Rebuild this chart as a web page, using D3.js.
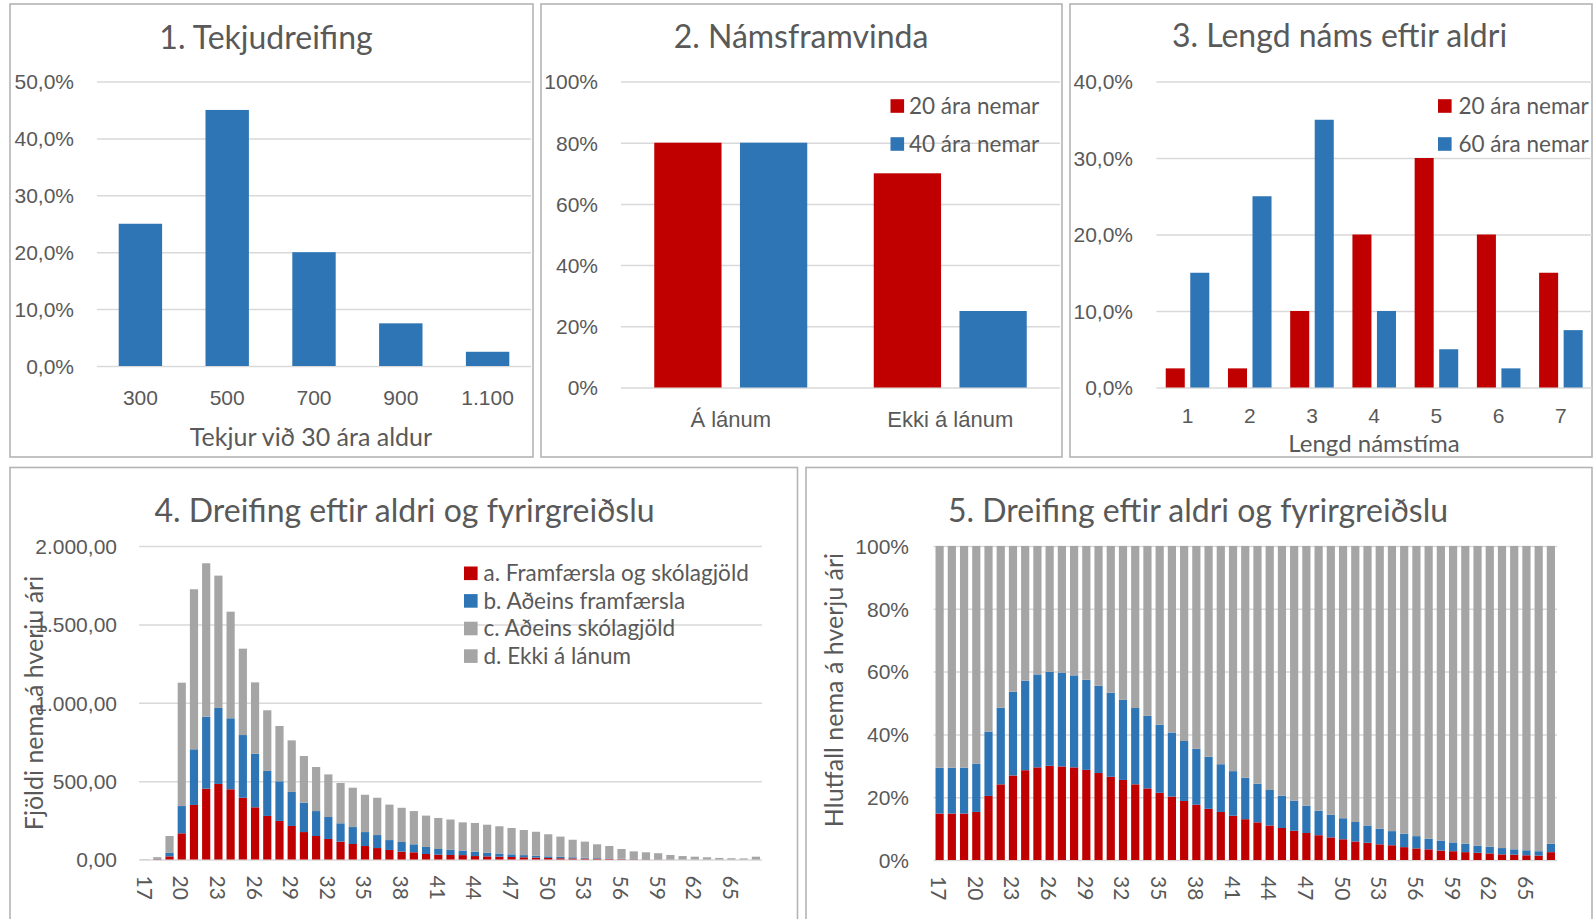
<!DOCTYPE html>
<html><head><meta charset="utf-8">
<script src="https://cdn.jsdelivr.net/npm/d3@7"></script>
<style>
body{margin:0;background:#fff;}
svg{display:block;font-family:Lato,'Open Sans',sans-serif;}
</style></head><body>
<svg id="c" width="1594" height="919"></svg>
<script>
// ---------- DATA ----------
// Chart 1
const incomeCats = [300, 500, 700, 900, 1100];
const incomeShare = [0.25, 0.45, 0.20, 0.075, 0.025];
const y1Ticks = [0, 0.1, 0.2, 0.3, 0.4, 0.5];
// Chart 2
const progressCats = ["Á lánum", "Ekki á lánum"];
const progressSeries = ["20 ára nemar", "40 ára nemar"];
const progress20 = [0.80, 0.70];
const progress40 = [0.80, 0.25];
const y2Ticks = [0, 0.2, 0.4, 0.6, 0.8, 1.0];
// Chart 3
const lengthCats = [1, 2, 3, 4, 5, 6, 7];
const lengthSeries = ["20 ára nemar", "60 ára nemar"];
const length20 = [0.025, 0.025, 0.10, 0.20, 0.30, 0.20, 0.15];
const length60 = [0.15, 0.25, 0.35, 0.10, 0.05, 0.025, 0.075];
const y3Ticks = [0, 0.1, 0.2, 0.3, 0.4];
// Charts 4 & 5
const ages = [17,18,19,20,21,22,23,24,25,26,27,28,29,30,31,32,33,34,35,36,37,38,39,40,41,42,43,44,45,46,47,48,49,50,51,52,53,54,55,56,57,58,59,60,61,62,63,64,65,66,67];
const ageTicks = [17,20,23,26,29,32,35,38,41,44,47,50,53,56,59,62,65];
const groupNames = ["a. Framfærsla og skólagjöld", "b. Aðeins framfærsla", "c. Aðeins skólagjöld", "d. Ekki á lánum"];
const countA = [0.2,2,20,167,348,452,482,448,394,333,278,246,214,175,150,131,114,99,86,73,61,50,46,35,31,29,28,22,20,18,16,14,12,10,8,7,6,5,4,2.5,1.8,1.4,1.1,0.7,0.5,0.4,0.3,0.2,0.1,0.1,0.45];
const countB = [0.2,2,22,174,355,459,485,453,400,342,287,253,217,187,159,140,117,108,89,83,63,62,51,45,36,34,29,28,23,20,17,14,12,10,9,7,5,4,3,2.6,1.7,1.5,1.1,0.8,0.5,0.4,0.2,0.2,0.1,0.1,0.5];
const countC = [0,0,0,0,0,0,0,0,0,0,0,0,0,0,0,0,0,0,0,0,0,0,0,0,0,0,0,0,0,0,0,0,0,0,0,0,0,0,0,0,0,0,0,0,0,0,0,0,0,0,0];
const countD = [0.9,11,108,787,1021,979,844,680,551,455,387,353,329,298,281,272,257,251,238,238,226,218,212,200,198,192,180,183,179,174,168,160,153,141,129,112,103,88,79,62,48.5,43,37.8,27.5,21,17.2,13.5,9.6,7.8,6.8,17];
const y4Ticks = [0, 500, 1000, 1500, 2000];
const shareA = [14.8,14.8,14.8,15.3,20.4,24.1,26.9,28.6,29.5,30.0,29.8,29.5,28.7,27.7,26.5,25.5,24.1,22.8,21.4,20.2,18.8,17.6,16.3,15.3,14.1,13.0,12.0,11.0,10.2,9.3,8.6,7.9,7.2,6.6,5.9,5.5,5.0,4.7,4.1,3.7,3.4,3.0,2.8,2.5,2.3,2.1,1.8,1.7,1.5,1.4,2.5];
const shareB = [14.6,14.6,14.6,15.4,20.5,24.4,26.7,28.5,29.6,29.9,29.9,29.3,28.7,27.8,26.8,25.5,24.3,23.1,21.7,20.4,19.1,17.8,16.6,15.2,14.2,13.2,12.3,11.3,10.3,9.6,8.7,7.8,7.2,6.7,6.2,5.5,5.0,4.5,4.3,3.9,3.4,3.2,2.8,2.7,2.3,2.1,2.0,1.7,1.6,1.4,2.7];
const shareC = [0,0,0,0,0,0,0,0,0,0,0,0,0,0,0,0,0,0,0,0,0,0,0,0,0,0,0,0,0,0,0,0,0,0,0,0,0,0,0,0,0,0,0,0,0,0,0,0,0,0,0];
const shareD = [70.6,70.6,70.6,69.3,59.1,51.5,46.4,42.9,40.9,40.1,40.3,41.2,42.6,44.5,46.7,49.0,51.6,54.1,56.9,59.4,62.1,64.6,67.1,69.5,71.7,73.8,75.7,77.7,79.5,81.1,82.7,84.3,85.6,86.7,87.9,89.0,90.0,90.8,91.6,92.4,93.2,93.8,94.4,94.8,95.4,95.8,96.2,96.6,96.9,97.2,94.8];
const y5Ticks = [0, 20, 40, 60, 80, 100];

// ---------- STYLE ----------
const RED = "#C00000", BLUE = "#2E75B6", GRAY = "#A5A5A5", TXT = "#595959", GRID = "#D9D9D9", BORDER = "#B4B4B4";
const TICK_FS = 21, CAT_FS = 22, LEG_FS = 22.5, AXT_FS = 25, TITLE_FS = 32;
const isl = d3.formatLocale({decimal: ",", thousands: ".", grouping: [3], currency: ["", " kr."]});
const svg = d3.select("#c");

function panel(x, y, w, h) {
  svg.append("rect").attr("x", x).attr("y", y).attr("width", w).attr("height", h)
    .attr("fill", "#fff").attr("stroke", BORDER).attr("stroke-width", 1.6);
}
function title(txt, cx, by) {
  svg.append("text").attr("x", cx).attr("y", by).attr("text-anchor", "middle")
    .attr("font-size", TITLE_FS).attr("fill", TXT).text(txt);
}
function yAxis(scale, ticks, fmt, labelRight, x0, x1) {
  const grid = svg.append("g").attr("transform", `translate(${x0},0)`)
    .call(d3.axisLeft(scale).tickValues(ticks).tickSize(-(x1 - x0)).tickFormat(""));
  grid.select(".domain").remove();
  grid.selectAll("line").attr("stroke", GRID).attr("stroke-width", 1.5);
  const lab = svg.append("g").attr("transform", `translate(${labelRight},0)`)
    .call(d3.axisLeft(scale).tickValues(ticks).tickSize(0).tickPadding(0).tickFormat(fmt));
  lab.select(".domain").remove();
  lab.selectAll("text").attr("font-size", TICK_FS).attr("fill", TXT).attr("font-family", null).attr("dy", "0.35em");
}
function xAxis(scale, baseY, pad, fmt, fs) {
  const g = svg.append("g").attr("transform", `translate(0,${baseY})`)
    .call(d3.axisBottom(scale).tickSize(0).tickPadding(pad).tickFormat(fmt));
  g.select(".domain").remove();
  g.selectAll("text").attr("font-size", fs).attr("fill", TXT).attr("font-family", null);
}
function legend(items, x, yStart, step, textX) {
  items.forEach((it, i) => {
    const cy = yStart + i * step;
    svg.append("rect").attr("x", x).attr("y", cy - 6.8).attr("width", 13.6).attr("height", 13.6).attr("fill", it.color);
    svg.append("text").attr("x", textX).attr("y", cy).attr("dy", "0.35em").attr("font-size", LEG_FS)
      .attr("fill", TXT).text(it.name);
  });
}
function axisTitle(txt, x, y, fs) {
  svg.append("text").attr("x", x).attr("y", y).attr("text-anchor", "middle")
    .attr("font-size", fs).attr("fill", TXT).text(txt);
}

// ---------- CHART 1 ----------
panel(10, 4, 523, 453);
title("1. Tekjudreifing", 266, 48.5);
{
  const y = d3.scaleLinear().domain([0, 0.5]).range([366, 81.5]);
  const x = d3.scaleBand().domain(incomeCats).range([97, 531]).paddingInner(0.5).paddingOuter(0.25);
  yAxis(y, y1Ticks, isl.format(".1%"), 74, 97, 531);
  svg.append("g").selectAll("rect").data(incomeCats).join("rect")
    .attr("x", d => x(d)).attr("width", x.bandwidth())
    .attr("y", (d, i) => y(incomeShare[i])).attr("height", (d, i) => y(0) - y(incomeShare[i]))
    .attr("fill", BLUE);
  xAxis(x, 366, 24, isl.format(",d"), TICK_FS);
  axisTitle("Tekjur við 30 ára aldur", 311, 446, AXT_FS);
}

// ---------- CHART 2 ----------
panel(541, 4, 521, 453);
title("2. Námsframvinda", 801, 48);
{
  const y = d3.scaleLinear().domain([0, 1]).range([387.5, 81.5]);
  const x0 = d3.scaleBand().domain(progressCats).range([621, 1060]).paddingInner(0.303).paddingOuter(0.1515);
  const x1 = d3.scaleBand().domain(progressSeries).range([0, x0.bandwidth()]).paddingInner(0.215);
  yAxis(y, y2Ticks, d3.format(".0%"), 598, 621, 1060);
  const vals = [progress20, progress40], cols = [RED, BLUE];
  progressSeries.forEach((s, si) => {
    svg.append("g").selectAll("rect").data(progressCats).join("rect")
      .attr("x", d => x0(d) + x1(s)).attr("width", x1.bandwidth())
      .attr("y", (d, i) => y(vals[si][i])).attr("height", (d, i) => y(0) - y(vals[si][i]))
      .attr("fill", cols[si]);
  });
  xAxis(x0, 387.5, 23.5, d => d, CAT_FS);
  legend(progressSeries.map((s, i) => ({name: s, color: cols[i]})), 890.5, 106, 38, 909);
}

// ---------- CHART 3 ----------
panel(1070, 4, 522, 453);
title("3. Lengd náms eftir aldri", 1339.5, 47);
{
  const y = d3.scaleLinear().domain([0, 0.4]).range([387.5, 81.5]);
  const x0 = d3.scaleBand().domain(lengthCats).range([1156.4, 1592]).paddingInner(0.3).paddingOuter(0.15);
  const x1 = d3.scaleBand().domain(lengthSeries).range([0, x0.bandwidth()]).paddingInner(0.224);
  yAxis(y, y3Ticks, isl.format(".1%"), 1133, 1156.4, 1592);
  const vals = [length20, length60], cols = [RED, BLUE];
  lengthSeries.forEach((s, si) => {
    svg.append("g").selectAll("rect").data(lengthCats).join("rect")
      .attr("x", d => x0(d) + x1(s)).attr("width", x1.bandwidth())
      .attr("y", (d, i) => y(vals[si][i])).attr("height", (d, i) => y(0) - y(vals[si][i]))
      .attr("fill", cols[si]);
  });
  xAxis(x0, 387.5, 21, d => d, TICK_FS);
  axisTitle("Lengd námstíma", 1374, 451.5, 24);
  legend(lengthSeries.map((s, i) => ({name: s, color: cols[i]})), 1438, 106, 38, 1458.5);
}

// ---------- CHART 4 & 5 helper ----------
function stackedChart(opts) {
  const {series, x0, x1, y, labelRight, ticks, fmt} = opts;
  const x = d3.scaleBand().domain(ages).range([x0, x1]).paddingInner(0.33).paddingOuter(0.165);
  yAxis(y, ticks, fmt, labelRight, x0, x1);
  const rows = ages.map((a, i) => ({age: a, a: series[0][i], b: series[1][i], c: series[2][i], d: series[3][i]}));
  const stack = d3.stack().keys(["a", "b", "c", "d"])(rows);
  const cols = [RED, BLUE, GRAY, GRAY];
  stack.forEach((layer, li) => {
    svg.append("g").selectAll("rect").data(layer).join("rect")
      .attr("x", d => x(d.data.age)).attr("width", x.bandwidth())
      .attr("y", d => y(d[1])).attr("height", d => Math.max(0, y(d[0]) - y(d[1])))
      .attr("fill", cols[li]);
  });
  const base = y(0);
  svg.append("g").selectAll("text").data(ageTicks).join("text")
    .attr("transform", d => `translate(${x(d) + x.bandwidth() / 2},${base + 16}) rotate(90)`)
    .attr("dominant-baseline", "central").attr("font-size", TICK_FS).attr("fill", TXT).text(d => d);
}

// ---------- CHART 4 ----------
panel(10, 467.5, 787.5, 470);
title("4. Dreifing eftir aldri og fyrirgreiðslu", 404.5, 522);
stackedChart({
  series: [countA, countB, countC, countD], x0: 139, x1: 762,
  y: d3.scaleLinear().domain([0, 2000]).range([859.5, 546]),
  labelRight: 117, ticks: y4Ticks, fmt: isl.format(",.2f")
});
svg.append("text").attr("transform", "translate(33,703) rotate(-90)").attr("text-anchor", "middle")
  .attr("dominant-baseline", "central").attr("font-size", AXT_FS).attr("fill", TXT).text("Fjöldi nema á hverju ári");
legend(groupNames.map((n, i) => ({name: n, color: [RED, BLUE, GRAY, GRAY][i]})), 464, 573.3, 27.6, 483.5);

// ---------- CHART 5 ----------
panel(806, 467.5, 786, 470);
title("5. Dreifing eftir aldri og fyrirgreiðslu", 1198, 522);
stackedChart({
  series: [shareA, shareB, shareC, shareD], x0: 933.5, x1: 1557,
  y: d3.scaleLinear().domain([0, 100]).range([860, 546]),
  labelRight: 909, ticks: y5Ticks, fmt: d => d + "%"
});
svg.append("text").attr("transform", "translate(833,690) rotate(-90)").attr("text-anchor", "middle")
  .attr("dominant-baseline", "central").attr("font-size", AXT_FS).attr("fill", TXT).text("Hlutfall nema á hverju ári");
</script>
</body></html>
